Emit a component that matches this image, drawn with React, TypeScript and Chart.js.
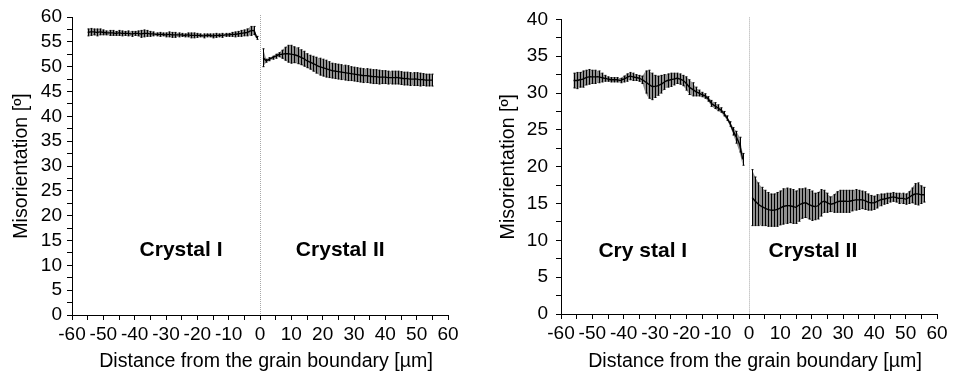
import React, { useEffect, useRef } from 'react';
import { Chart, registerables } from 'chart.js';

Chart.register(...registerables);

const FONT = '"Liberation Sans", Arial, Helvetica, sans-serif';

// ---------- sampling positions (µm) ----------
const range = (a: number, b: number) => {
  const out: number[] = [];
  for (let v = a; v <= b; v += 1) out.push(v);
  return out;
};

// ---------- LEFT panel ----------
const leftCrystalIX = range(-55, -1);
const leftCrystalIY = [
  56.9, 57.0, 57.0, 56.9, 57.0, 56.9, 56.8, 56.8, 56.8, 56.7,
  56.8, 56.7, 56.7, 56.7, 56.6, 56.7, 56.7, 56.6, 56.7, 56.7,
  56.6, 56.6, 56.5, 56.5, 56.5, 56.4, 56.5, 56.4, 56.4, 56.4,
  56.4, 56.3, 56.4, 56.3, 56.3, 56.3, 56.3, 56.2, 56.3, 56.3,
  56.2, 56.3, 56.3, 56.3, 56.4, 56.4, 56.5, 56.5, 56.6, 56.7,
  56.8, 56.9, 57.2, 57.3, 55.8,
];
const leftCrystalIErr = [
  0.7, 0.7, 0.6, 0.7, 0.6, 0.5, 0.4, 0.5, 0.5, 0.4,
  0.5, 0.5, 0.4, 0.5, 0.5, 0.4, 0.5, 0.7, 0.7, 0.6,
  0.5, 0.4, 0.3, 0.4, 0.3, 0.4, 0.5, 0.5, 0.5, 0.4,
  0.3, 0.3, 0.4, 0.5, 0.5, 0.4, 0.3, 0.4, 0.3, 0.3,
  0.4, 0.4, 0.3, 0.4, 0.3, 0.3, 0.4, 0.5, 0.5, 0.6,
  0.6, 0.7, 0.9, 0.8, 0.3,
];
const leftCrystalIIX = range(1, 55);
const leftCrystalIIY = [
  51.8, 51.2, 51.5, 51.8, 52.1, 52.4, 52.5, 52.6, 52.6, 52.5,
  52.4, 52.2, 51.9, 51.6, 51.2, 50.9, 50.6, 50.3, 50.0, 49.8,
  49.6, 49.4, 49.2, 49.1, 49.0, 48.9, 48.8, 48.7, 48.6, 48.5,
  48.4, 48.3, 48.2, 48.2, 48.1, 48.0, 48.0, 47.9, 47.9, 47.9,
  47.8, 47.8, 47.8, 47.8, 47.7, 47.6, 47.6, 47.5, 47.5, 47.5,
  47.4, 47.4, 47.3, 47.3, 47.3,
];
const leftCrystalIIErr = [
  1.8, 0.3, 0.3, 0.3, 0.4, 0.4, 0.8, 1.3, 1.7, 1.8,
  1.6, 1.6, 1.5, 1.5, 1.4, 1.4, 1.5, 1.6, 1.7, 1.7,
  1.7, 1.6, 1.5, 1.5, 1.5, 1.5, 1.5, 1.5, 1.4, 1.4,
  1.4, 1.4, 1.4, 1.4, 1.4, 1.4, 1.4, 1.4, 1.3, 1.3,
  1.3, 1.3, 1.3, 1.3, 1.3, 1.3, 1.3, 1.3, 1.3, 1.3,
  1.3, 1.2, 1.2, 1.2, 1.2,
];

// ---------- RIGHT panel ----------
const rightCrystalIX = range(-56, -2);
const rightCrystalIY = [
  31.7, 31.7, 31.8, 31.9, 32.1, 32.2, 32.2, 32.2, 32.2, 32.1,
  32.0, 31.9, 31.8, 31.8, 31.8, 31.7, 31.9, 32.1, 32.3, 32.2,
  32.1, 32.0, 31.8, 31.5, 31.2, 30.9, 30.9, 31.0, 31.2, 31.5,
  31.7, 31.8, 31.9, 32.0, 31.9, 31.7, 31.3, 30.8, 30.5, 30.2,
  30.0, 29.8, 29.6, 29.2, 28.6, 28.3, 28.0, 27.7, 27.2, 26.6,
  25.8, 24.8, 24.0, 23.0, 21.0,
];
const rightCrystalIErr = [
  1.0, 1.1, 1.0, 1.1, 1.0, 1.0, 0.9, 0.9, 0.8, 0.6,
  0.4, 0.3, 0.3, 0.3, 0.3, 0.3, 0.4, 0.5, 0.5, 0.5,
  0.4, 0.4, 0.5, 1.5, 1.9, 1.8, 1.5, 1.3, 1.2, 1.0,
  0.9, 0.9, 0.8, 0.7, 0.7, 0.7, 0.9, 1.0, 0.9, 0.6,
  0.4, 0.3, 0.3, 0.3, 0.4, 0.4, 0.4, 0.3, 0.3, 0.3,
  0.3, 0.5, 0.8, 1.0, 0.8,
];
const rightCrystalIIX = range(1, 56);
const rightCrystalIIY = [
  15.8, 15.3, 14.9, 14.6, 14.4, 14.2, 14.1, 14.1, 14.2, 14.4,
  14.6, 14.7, 14.7, 14.6, 14.5, 14.8, 15.0, 15.1, 14.9, 14.7,
  14.6, 14.7, 15.1, 15.3, 15.1, 14.9, 15.0, 15.2, 15.3, 15.3,
  15.3, 15.3, 15.4, 15.5, 15.5, 15.5, 15.4, 15.2, 15.1, 15.1,
  15.3, 15.5, 15.6, 15.7, 15.8, 15.9, 15.8, 15.7, 15.7, 15.6,
  15.8, 16.1, 16.3, 16.3, 16.2, 16.2,
];
const rightCrystalIIErr = [
  3.8, 3.3, 2.9, 2.6, 2.4, 2.3, 2.2, 2.2, 2.3, 2.3,
  2.4, 2.4, 2.3, 2.3, 2.2, 2.2, 2.0, 2.0, 2.0, 2.0,
  1.8, 1.8, 1.8, 1.5, 1.3, 1.0, 1.2, 1.4, 1.5, 1.5,
  1.5, 1.5, 1.4, 1.4, 1.3, 1.2, 1.2, 1.1, 1.0, 0.9,
  0.9, 0.8, 0.7, 0.7, 0.6, 0.6, 0.6, 0.7, 0.7, 0.7,
  0.8, 1.0, 1.4, 1.5, 1.2, 1.0,
];

// ---------- axes / text ----------
const xTicksMajor = [-60, -50, -40, -30, -20, -10, 0, 10, 20, 30, 40, 50, 60];
const leftYMax = 60;
const rightYMax = 40;
const xTitle = 'Distance from the grain boundary [µm]';
const yTitle = 'Misorientation [º]';
const leftLabels = [
  { text: 'Crystal I', x: -25.2, y: 13.1 },
  { text: 'Crystal II', x: 25.6, y: 13.1 },
];
const rightLabels = [
  { text: 'Cry stal I', x: -33.9, y: 8.5 },
  { text: 'Crystal II', x: 20.4, y: 8.5 },
];

const toPts = (xs: number[], ys: number[]) => xs.map((x, i) => ({ x, y: ys[i] }));

const errPlugin = {
  id: 'errBand',
  beforeDatasetsDraw(chart: any) {
    const { ctx } = chart;
    const xs = chart.scales.x;
    const ys = chart.scales.y;
    chart.data.datasets.forEach((ds: any) => {
      const errs: number[] = ds.errs;
      if (!errs) return;
      const pts = ds.data as { x: number; y: number }[];
      ctx.save();
      ctx.beginPath();
      pts.forEach((p, i) => {
        const px = xs.getPixelForValue(p.x);
        const py = ys.getPixelForValue(p.y + errs[i]);
        if (i === 0) ctx.moveTo(px, py);
        else ctx.lineTo(px, py);
      });
      for (let i = pts.length - 1; i >= 0; i--) {
        ctx.lineTo(xs.getPixelForValue(pts[i].x), ys.getPixelForValue(pts[i].y - errs[i]));
      }
      ctx.closePath();
      ctx.fillStyle = '#909090';
      ctx.fill();
      ctx.strokeStyle = '#000';
      ctx.lineWidth = 1;
      pts.forEach((p, i) => {
        const px = Math.round(xs.getPixelForValue(p.x)) + 0.5;
        const hi = ys.getPixelForValue(p.y + errs[i]);
        const lo = ys.getPixelForValue(p.y - errs[i]);
        ctx.beginPath();
        ctx.moveTo(px, hi);
        ctx.lineTo(px, lo);
        ctx.moveTo(px - 1, hi);
        ctx.lineTo(px + 1, hi);
        ctx.moveTo(px - 1, lo);
        ctx.lineTo(px + 1, lo);
        ctx.stroke();
      });
      ctx.restore();
    });
  },
};

const decoPlugin = {
  id: 'deco',
  beforeDatasetsDraw(chart: any) {
    const { ctx, chartArea } = chart;
    const x0 = Math.round(chart.scales.x.getPixelForValue(0)) + 0.5;
    ctx.save();
    ctx.strokeStyle = '#a8a8a8';
    ctx.lineWidth = 1;
    ctx.setLineDash([1, 1]);
    ctx.beginPath();
    ctx.moveTo(x0, chartArea.top - 2);
    ctx.lineTo(x0, chartArea.bottom);
    ctx.stroke();
    ctx.restore();
  },
  afterDatasetsDraw(chart: any, _args: any, opts: any) {
    const { ctx, chartArea } = chart;
    ctx.save();
    ctx.fillStyle = '#000';
    ctx.font = `bold 21px ${FONT}`;
    ctx.textAlign = 'center';
    ctx.textBaseline = 'middle';
    (opts.labels || []).forEach((l: any) => {
      ctx.fillText(l.text, chart.scales.x.getPixelForValue(l.x), chart.scales.y.getPixelForValue(l.y));
    });
    // x-axis title, centred slightly right of the plot centre as in the source figure
    ctx.font = `19.6px ${FONT}`;
    ctx.fillText(xTitle, (chartArea.left + chartArea.right) / 2 + 6, chart.height - 13.5);
    ctx.restore();
  },
};

type PanelProps = {
  segs: { xs: number[]; ys: number[]; errs: number[] }[];
  yMax: number;
  labels: { text: string; x: number; y: number }[];
  yWidth: number;
  padRight: number;
  xHeight: number;
  yTickPad: number;
  yTitlePad: number;
};

function Panel(props: PanelProps) {
  const ref = useRef<HTMLCanvasElement>(null);
  useEffect(() => {
    const canvas = ref.current;
    if (!canvas) return;
    const tickFont = { family: FONT, size: 19 };
    const titleFont = { family: FONT, size: 19.6 };
    const chart = new Chart(canvas, {
      type: 'line',
      data: {
        datasets: props.segs.map((s) => ({
          data: toPts(s.xs, s.ys),
          errs: s.errs,
          borderColor: '#000',
          borderWidth: 1.4,
          pointRadius: 0,
          tension: 0.2,
          fill: false,
        })) as any,
      },
      options: {
        responsive: false,
        animation: false,
        devicePixelRatio: 1,
        layout: { padding: { top: 17, right: props.padRight, bottom: 0, left: 0 } },
        plugins: {
          legend: { display: false },
          tooltip: { enabled: false },
          deco: { labels: props.labels },
        } as any,
        scales: {
          x: {
            type: 'linear',
            min: xTicksMajor[0],
            max: xTicksMajor[xTicksMajor.length - 1],
            afterFit: (s: any) => {
              s.height = props.xHeight;
            },
            ticks: {
              stepSize: 5,
              autoSkip: false,
              maxRotation: 0,
              padding: 3,
              color: '#000',
              font: tickFont,
              callback: (v: any) => (xTicksMajor.includes(Number(v)) ? String(v) : ''),
            },
            grid: { drawOnChartArea: false, tickLength: 5, color: '#000' },
            border: { color: '#000', width: 1 },
            title: { display: false },
          },
          y: {
            type: 'linear',
            min: 0,
            max: props.yMax,
            afterFit: (s: any) => {
              s.width = props.yWidth;
            },
            ticks: {
              stepSize: 2.5,
              autoSkip: false,
              padding: props.yTickPad,
              color: '#000',
              font: tickFont,
              callback: (v: any) => (Number(v) % 5 === 0 ? String(v) : ''),
            },
            grid: { drawOnChartArea: false, tickLength: 5, color: '#000' },
            border: { color: '#000', width: 1 },
            title: { display: true, text: yTitle, color: '#000', font: titleFont, padding: { top: props.yTitlePad, bottom: 0 } },
          },
        },
      } as any,
      plugins: [errPlugin, decoPlugin] as any,
    });
    return () => chart.destroy();
  }, []);
  return <canvas ref={ref} width={477} height={375} style={{ width: 477, height: 375, display: 'block' }} />;
}

export default function App() {
  return (
    <div style={{ position: 'absolute', left: 0, top: 0, width: 954, height: 375, background: '#fff' }}>
      <div style={{ position: 'absolute', left: 0, top: 0 }}>
        <Panel
          segs={[
            { xs: leftCrystalIX, ys: leftCrystalIY, errs: leftCrystalIErr },
            { xs: leftCrystalIIX, ys: leftCrystalIIY, errs: leftCrystalIIErr },
          ]}
          yMax={leftYMax}
          labels={leftLabels}
          yWidth={72}
          padRight={29}
          xHeight={60}
          yTickPad={5}
          yTitlePad={10}
        />
      </div>
      <div style={{ position: 'absolute', left: 477, top: 0 }}>
        <Panel
          segs={[
            { xs: rightCrystalIX, ys: rightCrystalIY, errs: rightCrystalIErr },
            { xs: rightCrystalIIX, ys: rightCrystalIIY, errs: rightCrystalIIErr },
          ]}
          yMax={rightYMax}
          labels={rightLabels}
          yWidth={84}
          padRight={17}
          xHeight={61}
          yTickPad={8}
          yTitlePad={20}
        />
      </div>
    </div>
  );
}
